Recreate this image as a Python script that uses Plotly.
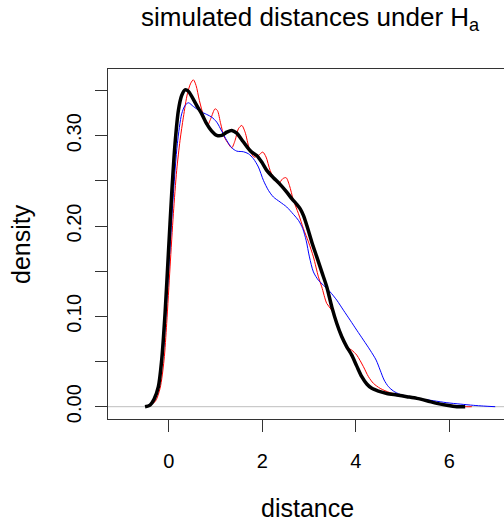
import plotly.graph_objects as go

# ---- data ----
black_x = [-0.506, -0.399, -0.314, -0.221, -0.150, -0.078, -0.007, 0.064, 0.135, 0.207, 0.278, 0.349,
           0.421, 0.492, 0.599, 0.706, 0.813, 0.920, 1.027, 1.134, 1.241, 1.348, 1.455, 1.562, 1.668,
           1.775, 1.882, 1.989, 2.096, 2.239, 2.381, 2.524, 2.631, 2.738, 2.809, 2.880, 2.952, 3.059,
           3.166, 3.273, 3.380, 3.487, 3.594, 3.701, 3.807, 3.914, 4.021, 4.128, 4.235, 4.342, 4.485,
           4.663, 4.877, 5.091, 5.305, 5.519, 5.733, 5.947, 6.160, 6.339]
black_y = [0.0, 0.0018, 0.0081, 0.0221, 0.0516, 0.1032, 0.1695, 0.2358, 0.2910, 0.3279, 0.3445, 0.3507,
           0.3492, 0.3434, 0.3334, 0.3242, 0.3131, 0.3050, 0.3003, 0.3003, 0.3039, 0.3058, 0.3028, 0.2955,
           0.2881, 0.2818, 0.2781, 0.2708, 0.2616, 0.2535, 0.2461, 0.2376, 0.2303, 0.2240, 0.2192, 0.2118,
           0.2008, 0.1824, 0.1658, 0.1492, 0.1326, 0.1105, 0.0921, 0.0774, 0.0663, 0.0571, 0.0449, 0.0332,
           0.0251, 0.0203, 0.0173, 0.0147, 0.0129, 0.0111, 0.0092, 0.0066, 0.0037, 0.0015, 0.0, 0.0]

red_x = [-0.485, -0.292, -0.185, -0.100, -0.043, 0.029, 0.100, 0.171, 0.242, 0.314, 0.399, 0.471, 0.528,
         0.585, 0.656, 0.742, 0.827, 0.898, 0.991, 1.041, 1.112, 1.184, 1.276, 1.348, 1.419, 1.490, 1.562,
         1.633, 1.725, 1.825, 1.918, 2.011, 2.082, 2.168, 2.275, 2.346, 2.439, 2.510, 2.581, 2.667, 2.774,
         2.880, 2.988, 3.094, 3.201, 3.273, 3.380, 3.487, 3.594, 3.701, 3.807, 3.914, 4.021, 4.164, 4.271,
         4.378, 4.521, 4.734, 5.020, 5.305, 5.661, 6.018, 6.374, 6.481]
red_y = [0.0, 0.0055, 0.0203, 0.0516, 0.0921, 0.1547, 0.2137, 0.2616, 0.2947, 0.3205, 0.3463, 0.3581,
         0.3618, 0.3555, 0.3389, 0.3224, 0.3113, 0.3187, 0.3297, 0.3279, 0.3131, 0.2991, 0.2910, 0.2866,
         0.2947, 0.3076, 0.3113, 0.3039, 0.2855, 0.2763, 0.2781, 0.2818, 0.2763, 0.2616, 0.2505, 0.2468,
         0.2524, 0.2535, 0.2450, 0.2284, 0.2137, 0.1971, 0.1824, 0.1658, 0.1437, 0.1326, 0.1142, 0.1068,
         0.0939, 0.0774, 0.0663, 0.0626, 0.0571, 0.0442, 0.0332, 0.0258, 0.0203, 0.0155, 0.0118, 0.0088,
         0.0044, 0.0018, 0.0, 0.0]

blue_x = [-0.506, -0.399, -0.292, -0.200, -0.114, -0.043, 0.029, 0.100, 0.185, 0.278, 0.349, 0.421, 0.528,
          0.670, 0.813, 0.920, 1.027, 1.134, 1.241, 1.348, 1.455, 1.597, 1.704, 1.811, 1.918, 2.025, 2.132,
          2.239, 2.381, 2.524, 2.667, 2.774, 2.866, 2.938, 3.009, 3.094, 3.201, 3.308, 3.451, 3.594, 3.736,
          3.879, 4.021, 4.164, 4.307, 4.435, 4.521, 4.606, 4.699, 4.806, 4.948, 5.162, 5.376, 5.661, 5.947,
          6.232, 6.517, 6.731, 6.981]
blue_y = [0.0, 0.0029, 0.0111, 0.0295, 0.0626, 0.1179, 0.1768, 0.2358, 0.2910, 0.3242, 0.3334, 0.3364,
          0.3323, 0.3271, 0.3235, 0.3205, 0.3150, 0.3050, 0.2947, 0.2866, 0.2829, 0.2822, 0.2800, 0.2745,
          0.2653, 0.2505, 0.2395, 0.2321, 0.2266, 0.2210, 0.2129, 0.2063, 0.1971, 0.1842, 0.1658, 0.1492,
          0.1400, 0.1345, 0.1271, 0.1179, 0.1068, 0.0958, 0.0847, 0.0737, 0.0626, 0.0516, 0.0405, 0.0295,
          0.0221, 0.0173, 0.0136, 0.0111, 0.0088, 0.0066, 0.0044, 0.0029, 0.0015, 0.0007, 0.0]

x_tick_vals = [0, 2, 4, 6]
y_tick_vals = [0.0, 0.10, 0.20, 0.30]
y_tick_text = ["0.00", "0.10", "0.20", "0.30"]
y_minor_step = 0.05

title_text = "simulated distances under H<sub>a</sub>"
x_title = "distance"
y_title = "density"

FONT = "Liberation Sans, Arial, sans-serif"
AX = "#333333"

fig = go.Figure()
fig.add_trace(go.Scatter(x=red_x, y=red_y, mode="lines",
                         line=dict(color="#FF0000", width=1, shape="spline", smoothing=0.8),
                         hoverinfo="skip", showlegend=False))
fig.add_trace(go.Scatter(x=blue_x, y=blue_y, mode="lines",
                         line=dict(color="#0000FF", width=1, shape="spline", smoothing=0.8),
                         hoverinfo="skip", showlegend=False))
fig.add_trace(go.Scatter(x=black_x, y=black_y, mode="lines",
                         line=dict(color="#000000", width=3.5, shape="spline", smoothing=0.8),
                         hoverinfo="skip", showlegend=False))

fig.add_shape(type="line", xref="paper", x0=0, x1=1, yref="y", y0=0, y1=0,
              line=dict(color="#BEBEBE", width=1), layer="below")

fig.update_layout(
    template="none",
    width=504, height=523,
    margin=dict(l=108, r=0, t=69, b=104, pad=0, autoexpand=False),
    paper_bgcolor="white", plot_bgcolor="white",
    font=dict(family=FONT, color="black", size=20),
    showlegend=False,
    xaxis=dict(range=[-1.298, 7.169], tickvals=x_tick_vals, ticktext=[str(v) for v in x_tick_vals],
               ticks="outside", ticklen=12, tickwidth=1, tickcolor=AX,
               showline=True, linecolor=AX, linewidth=1, mirror=True, automargin=False,
               showgrid=False, zeroline=False, tickfont=dict(size=20, family=FONT),
               ticklabelstandoff=12),
    yaxis=dict(range=[-0.01362, 0.3738], tickvals=y_tick_vals, ticktext=y_tick_text,
               ticks="outside", ticklen=12, tickwidth=1, tickcolor=AX,
               minor=dict(ticks="outside", ticklen=12, tickwidth=1, tickcolor=AX,
                          tick0=0, dtick=y_minor_step, showgrid=False),
               showline=True, linecolor=AX, linewidth=1, mirror=False, automargin=False,
               showgrid=False, zeroline=False, tickangle=-90,
               tickfont=dict(size=20, family=FONT), ticklabelstandoff=6),
)

fig.add_annotation(text=title_text, xref="paper", yref="paper", x=(310 - 108) / 396, y=1,
                   xanchor="center", yanchor="middle", yshift=69 - 18, showarrow=False,
                   font=dict(size=26, family=FONT, color="black"))
fig.add_annotation(text=x_title, xref="paper", yref="paper", x=(307.5 - 108) / 396, y=0,
                   xanchor="center", yanchor="middle", yshift=-(508 - 419), showarrow=False,
                   font=dict(size=25, family=FONT, color="black"))
fig.add_annotation(text=y_title, xref="paper", yref="paper", x=0, y=0.5, textangle=-90,
                   xanchor="center", yanchor="middle", xshift=21 - 108, showarrow=False,
                   font=dict(size=25, family=FONT, color="black"))

fig.write_html("out.html",
               config={"displayModeBar": False, "staticPlot": True},
               post_script="document.body.style.margin='0px';"
                           "document.body.style.padding='0px';"
                           "document.body.style.overflow='hidden';")
